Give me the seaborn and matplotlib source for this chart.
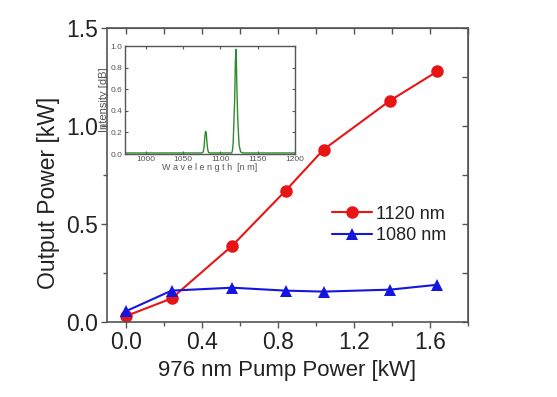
import numpy as np
import pandas as pd
import matplotlib
matplotlib.use("Agg")
import matplotlib.pyplot as plt
import seaborn as sns
from matplotlib.ticker import MultipleLocator

# main data
pump_power = [0.0, 0.24, 0.56, 0.84, 1.04, 1.39, 1.64]
out_1120 = [0.03, 0.12, 0.39, 0.67, 0.88, 1.13, 1.28]
out_1080 = [0.055, 0.16, 0.175, 0.16, 0.155, 0.165, 0.19]

# inset spectrum
wavelength = [972, 1000, 1020, 1050, 1075, 1077, 1078, 1079, 1080, 1081, 1082, 1083, 1084, 1086,
              1110, 1115, 1116, 1117, 1118, 1119, 1120, 1121, 1122, 1123, 1124, 1125, 1127, 1130, 1160, 1200]
intensity = [0.01, 0.01, 0.01, 0.01, 0.01, 0.02, 0.06, 0.15, 0.21, 0.2, 0.1, 0.04, 0.015, 0.01,
             0.01, 0.01, 0.03, 0.1, 0.3, 0.5, 0.87, 0.97, 0.6, 0.35, 0.2, 0.08, 0.02, 0.01, 0.01, 0.01]

sns.set_style("ticks")
plt.rcParams['font.family'] = ['Liberation Sans', 'DejaVu Sans']

df = pd.DataFrame({
    'pump': pump_power * 2,
    'out': out_1120 + out_1080,
    'line': ['1120 nm'] * len(pump_power) + ['1080 nm'] * len(pump_power),
})

grey = '#555555'
fig = plt.figure(figsize=(5.57, 3.97), dpi=100)
ax = fig.add_axes([0.192, 0.189, 0.648, 0.740])

sns.lineplot(data=df, x='pump', y='out', hue='line', style='line',
             palette={'1120 nm': '#e81515', '1080 nm': '#1515e0'},
             markers={'1120 nm': 'o', '1080 nm': '^'}, dashes=False,
             markersize=9, linewidth=1.5, markeredgewidth=0, ax=ax)

ax.set_xlim(-0.1, 1.8)
ax.set_ylim(0, 1.5)
ax.xaxis.set_major_locator(MultipleLocator(0.4))
ax.xaxis.set_minor_locator(MultipleLocator(0.2))
ax.yaxis.set_major_locator(MultipleLocator(0.5))
ax.yaxis.set_minor_locator(MultipleLocator(0.25))
ax.set_xticks([0.0, 0.4, 0.8, 1.2, 1.6])
ax.set_xticklabels(['0.0', '0.4', '0.8', '1.2', '1.6'])
ax.tick_params(axis='both', which='major', labelsize=16.5, length=4, width=1, color=grey,
               labelcolor='#222222', pad=2.5)
ax.tick_params(axis='both', which='minor', length=3, width=1, color=grey)
for s in ax.spines.values():
    s.set_color(grey)
    s.set_linewidth(1.2)
ax.set_xlabel('976 nm Pump Power [kW]', fontsize=16, color='#222222')
ax.set_ylabel('Output Power [kW]', fontsize=16.5, color='#222222')
ax.yaxis.set_label_coords(-0.13, 0.44)

# inward ticks on top and right
top = ax.secondary_xaxis('top')
top.xaxis.set_major_locator(MultipleLocator(0.2))
top.tick_params(direction='in', length=4, width=1, color=grey, labeltop=False)
right = ax.secondary_yaxis('right')
right.yaxis.set_major_locator(MultipleLocator(0.25))
right.tick_params(direction='in', length=4, width=1, color=grey, labelright=False)
top.spines['top'].set_color(grey)
right.spines['right'].set_color(grey)

leg = ax.legend(loc='center right', bbox_to_anchor=(0.961, 0.33), frameon=False,
                fontsize=13, handlelength=2.2, handletextpad=0.25, labelspacing=0.25,
                borderaxespad=0)
for t in leg.get_texts():
    t.set_color('#222222')

# inset
ins = fig.add_axes([0.224, 0.612, 0.306, 0.272])
sns.lineplot(x=wavelength, y=intensity, color='#2e8b2e', linewidth=1.0, ax=ins)
ins.set_xlim(972, 1200)
ins.set_ylim(0, 1.0)
ins.set_xticks([1000, 1050, 1100, 1150, 1200])
ins.set_yticks([0.0, 0.2, 0.4, 0.6, 0.8, 1.0])
ins.set_yticklabels(['0.0', '0.2', '0.4', '0.6', '0.8', '1.0'])
ins.tick_params(axis='both', labelsize=6, length=2, direction='in', colors=grey,
                top=True, right=True, pad=1.5)
for s in ins.spines.values():
    s.set_color(grey)
    s.set_linewidth(1.0)
ins.set_xlabel('W a v e l e n g t h  [n m]', fontsize=6.5, color=grey, labelpad=0)
ins.set_ylabel('Intensity [dB]', fontsize=8, color=grey, labelpad=1)

fig.savefig('out.png', dpi=100)
